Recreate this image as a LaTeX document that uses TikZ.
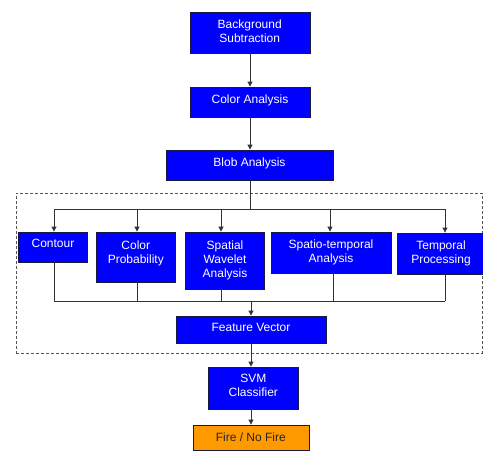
\documentclass[tikz,border=0pt]{standalone}
\usepackage{fontspec}
\setmainfont{Liberation Sans}
\usetikzlibrary{arrows.meta,calc}
\definecolor{boxblue}{HTML}{0000FF}
\definecolor{boxedge}{HTML}{1A1A40}
\definecolor{firefill}{HTML}{FF9900}
\definecolor{linegray}{HTML}{333333}
\definecolor{dashgray}{HTML}{555555}
\begin{document}
\begin{tikzpicture}[x=1pt,y=-1pt,
  box/.style={rectangle, draw=boxedge, fill=boxblue, line width=0.8pt, inner sep=0pt},
  firebox/.style={box, fill=firefill},
  lbl/.style={text=white, font=\fontsize{12}{14}\selectfont, align=center, inner sep=0pt, text depth=0pt},
  darklbl/.style={lbl, text=black!85},
  conn/.style={draw=linegray, line width=0.8pt},
  arr/.style={conn, -{Triangle[length=5pt,width=5pt]}},
  frame/.style={rectangle, draw=dashgray, line width=0.8pt, dash pattern=on 3pt off 2pt, inner sep=0pt}]
\useasboundingbox (0,0) rectangle (483,451);
\clip (0,0) rectangle (483,451);
\fill[white] (0,0) rectangle (483,451);

% dashed group frame
\node[frame, minimum width=466pt, minimum height=160pt] (grp) at (249,273) {};

% boxes
\node[box, minimum width=120pt, minimum height=41pt] (bg) at (250,32.5) {};
\node[box, minimum width=120pt, minimum height=30pt] (ca) at (250,102) {};
\node[box, minimum width=167pt, minimum height=30pt] (ba) at (250,165) {};
\node[box, minimum width=69pt, minimum height=30pt] (co) at (52.5,247) {};
\node[box, minimum width=79pt, minimum height=50pt] (cp) at (135.5,257) {};
\node[box, minimum width=79pt, minimum height=57pt] (sw) at (224.5,260.5) {};
\node[box, minimum width=120pt, minimum height=41pt] (st) at (331,252.5) {};
\node[box, minimum width=88pt, minimum height=41pt] (tp) at (441,253.5) {};
\node[box, minimum width=150pt, minimum height=27pt] (fv) at (251,329.5) {};
\node[box, minimum width=90pt, minimum height=42pt] (svm) at (253,388) {};
\node[firebox, minimum width=116pt, minimum height=25pt] (fire) at (251,437.5) {};

% labels
\node[lbl] (bgT) at (249.7,31.5) {Background\\Subtraction};
\node[lbl] (caT) at (250,99) {Color Analysis};
\node[lbl] (baT) at (249.5,162) {Blob Analysis};
\node[lbl] (coT) at (53,243) {Contour};
\node[lbl] (cpT) at (135.8,252) {Color\\Probability};
\node[lbl] (swT) at (225,259.5) {Spatial\\Wavelet\\Analysis};
\node[lbl] (stT) at (331,251) {Spatio-temporal\\Analysis};
\node[lbl] (tpT) at (441,252) {Temporal\\Processing};
\node[lbl] (fvT) at (251,327) {Feature Vector};
\node[lbl] (svmT) at (253.3,385.5) {SVM\\Classifier};
\node[darklbl] (fireT) at (250.8,437) {Fire / No Fire};

% top chain
\draw[arr] (bg.south) -- (ca.north);
\draw[arr] (ca.south) -- (ba.north);

% split to features
\coordinate (split) at (250,209);
\coordinate (coA) at ([xshift=1.5pt]co.north);
\coordinate (cpA) at ([xshift=1.5pt]cp.north);
\coordinate (swA) at ([xshift=-3.5pt]sw.north);
\coordinate (stA) at ([xshift=-1pt]st.north);
\coordinate (tpA) at ([xshift=4pt]tp.north);
\draw[conn] (ba.south) -- (split);
\draw[conn] (split -| coA) -- (split -| tpA);
\foreach \n in {coA,cpA,swA,stA,tpA}
  \draw[arr] (split -| \n) -- (\n);

% join to feature vector
\coordinate (join) at (251,301);
\coordinate (coB) at ([xshift=1.5pt]co.south);
\coordinate (cpB) at ([xshift=1.5pt]cp.south);
\coordinate (swB) at ([xshift=-3.5pt]sw.south);
\coordinate (stB) at ([xshift=2pt]st.south);
\coordinate (tpB) at ([xshift=4pt]tp.south);
\foreach \n in {coB,cpB,swB,stB,tpB}
  \draw[conn] (\n) -- (join -| \n);
\draw[conn] (join -| coB) -- (join -| tpB);
\draw[arr] (join) -- (fv.north);

% bottom chain
\draw[arr] (fv.south) -- (fv.south |- svm.north);
\draw[arr] (svm.south -| fv.south) -- (fv.south |- fire.north);
\end{tikzpicture}
\end{document}
